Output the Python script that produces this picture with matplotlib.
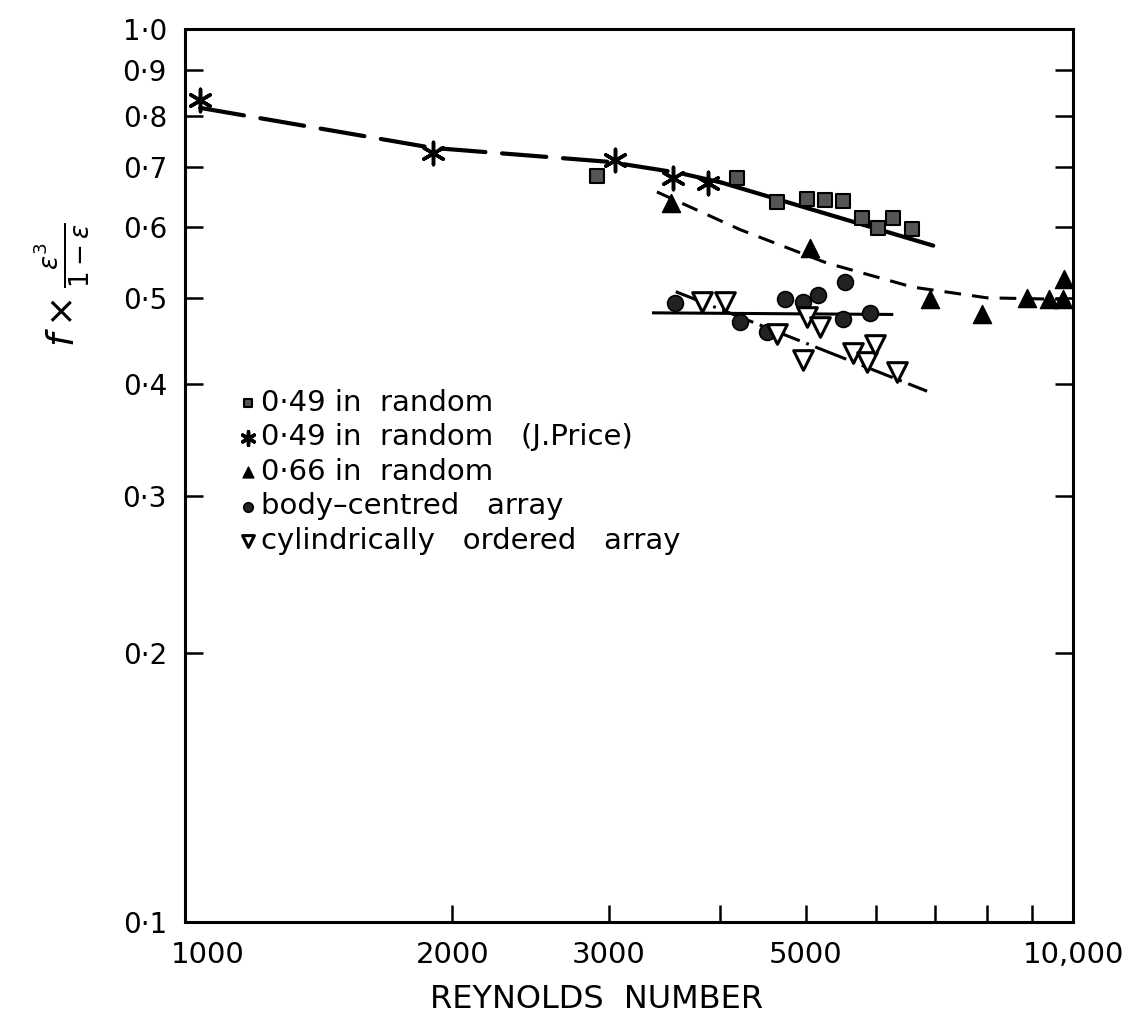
import matplotlib
matplotlib.use("Agg")
import matplotlib.pyplot as plt

plt.rcParams['font.family'] = ['DejaVu Sans']
plt.rcParams['lines.scale_dashes'] = False

# ---- data (Reynolds number, f * eps^3/(1-eps)) ----
price_re = [1040, 1900, 3050, 3545, 3880]
price_f = [0.833, 0.727, 0.714, 0.681, 0.673]

sq_re = [2910, 4180, 4640, 5020, 5260, 5510, 5790, 6030, 6270, 6590]
sq_f = [0.685, 0.681, 0.640, 0.645, 0.644, 0.642, 0.615, 0.599, 0.615, 0.597]

tri_re = [3530, 5060, 6900, 7900, 8880, 9400, 9740, 9760]
tri_f = [0.639, 0.569, 0.498, 0.479, 0.500, 0.498, 0.498, 0.525]

circ_re = [3560, 4220, 4520, 4740, 4970, 5160, 5540, 5510, 5910]
circ_f = [0.494, 0.470, 0.458, 0.498, 0.495, 0.504, 0.521, 0.473, 0.481]

cyl_re = [3820, 4060, 4640, 5020, 5190, 4970, 5650, 5860, 5980, 6340]
cyl_f = [0.495, 0.495, 0.455, 0.476, 0.464, 0.426, 0.434, 0.424, 0.443, 0.413]

# fitted curves
price_line_re = [1040, 1900, 3000, 3600, 4020]
price_line_f = [0.816, 0.736, 0.710, 0.690, 0.673]
sq_line_re = [4020, 6960]
sq_line_f = [0.673, 0.572]
tri_line_re = [3400, 4220, 5280, 6600, 8000, 9800]
tri_line_f = [0.657, 0.596, 0.547, 0.514, 0.500, 0.498]
circ_line_re = [3370, 6250]
circ_line_f = [0.481, 0.479]
cyl_line_re = [3570, 6850]
cyl_line_f = [0.508, 0.393]

x_ticks = [2000, 3000, 4000, 5000, 6000, 7000, 8000, 9000]
x_label_vals = [1000, 2000, 3000, 5000, 10000]
x_label_txt = ["1000", "2000", "3000", "5000", "10,000"]
y_ticks = [0.1, 0.2, 0.3, 0.4, 0.5, 0.6, 0.7, 0.8, 0.9, 1.0]
y_label_txt = ["0·1", "0·2", "0·3", "0·4", "0·5", "0·6", "0·7", "0·8", "0·9", "1·0"]

labels = ["0·49 in  random", "0·49 in  random   (J.Price)", "0·66 in  random",
          "body–centred   array", "cylindrically   ordered   array"]

W, H = 1145, 1029
fig = plt.figure(figsize=(W / 100, H / 100), dpi=100)
L, R, T, B = 185, 1073, 29, 922
ax = fig.add_axes([L / W, 1 - B / H, (R - L) / W, (B - T) / H])
ax.set_xscale('log')
ax.set_yscale('log')
ax.set_xlim(1000, 10000)
ax.set_ylim(0.1, 1.0)

# lines
ax.plot(price_line_re, price_line_f, color='black', lw=3.0, dashes=(32, 12), solid_capstyle='round', dash_capstyle='round')
ax.plot(sq_line_re, sq_line_f, color='black', lw=3.0, solid_capstyle='round')
ax.plot(tri_line_re, tri_line_f, color='black', lw=2.2, dashes=(12, 8))
ax.plot(circ_line_re, circ_line_f, color='black', lw=2.2)
ax.plot(cyl_line_re, cyl_line_f, color='black', lw=2.2, dashes=(24, 5, 2, 5))

# markers
h_sq = ax.scatter(sq_re, sq_f, marker='s', s=100, facecolor='#555555', edgecolor='black', linewidth=1.5, zorder=3)
h_pr = ax.scatter(price_re, price_f, marker=(6, 2, 0), s=260, color='black', linewidth=2.5, zorder=3)
h_tr = ax.scatter(tri_re, tri_f, marker='^', s=170, facecolor='black', edgecolor='black', zorder=3)
h_ci = ax.scatter(circ_re, circ_f, marker='o', s=130, facecolor='#222222', edgecolor='black', linewidth=1.2, zorder=3)
h_cy = ax.scatter(cyl_re, cyl_f, marker='v', s=200, facecolor='white', edgecolor='black', linewidth=2.2, zorder=4)

# axes styling
for sp in ax.spines.values():
    sp.set_linewidth(2.2)
ax.minorticks_off()
ax.set_xticks(x_ticks)
ax.set_xticklabels([])
ax.tick_params(axis='x', which='major', direction='in', length=12, width=1.8, bottom=True, top=False)
ax.set_yticks(y_ticks)
ax.set_yticklabels(y_label_txt, fontsize=20)
ax.tick_params(axis='y', which='major', direction='in', length=13, width=1.8, left=True, right=True, pad=13)
ax.minorticks_off()
for v, t in zip(x_label_vals, x_label_txt):
    dx = 16 if v == 1000 else 0
    ax.annotate(t, xy=(v, 0.1), xytext=(dx, -14), textcoords='offset points', ha='center', va='top', fontsize=21, annotation_clip=False)

fig.text(597 / W, 1 - 1000 / H, "REYNOLDS  NUMBER", ha='center', va='center', fontsize=23)
fig.text(62 / W, 1 - 285 / H, r"$f\times\frac{\varepsilon^3}{1-\varepsilon}$", ha='center', va='center', rotation=90, fontsize=27)

leg = ax.legend([h_sq, h_pr, h_tr, h_ci, h_cy], labels, loc='upper left',
                bbox_to_anchor=(238 / W, 1 - 389 / H), bbox_transform=fig.transFigure,
                frameon=False, fontsize=21, markerscale=0.6, handletextpad=0.1,
                handlelength=0.7, labelspacing=0.22, borderpad=0, borderaxespad=0)

fig.savefig("out.png", dpi=100)
